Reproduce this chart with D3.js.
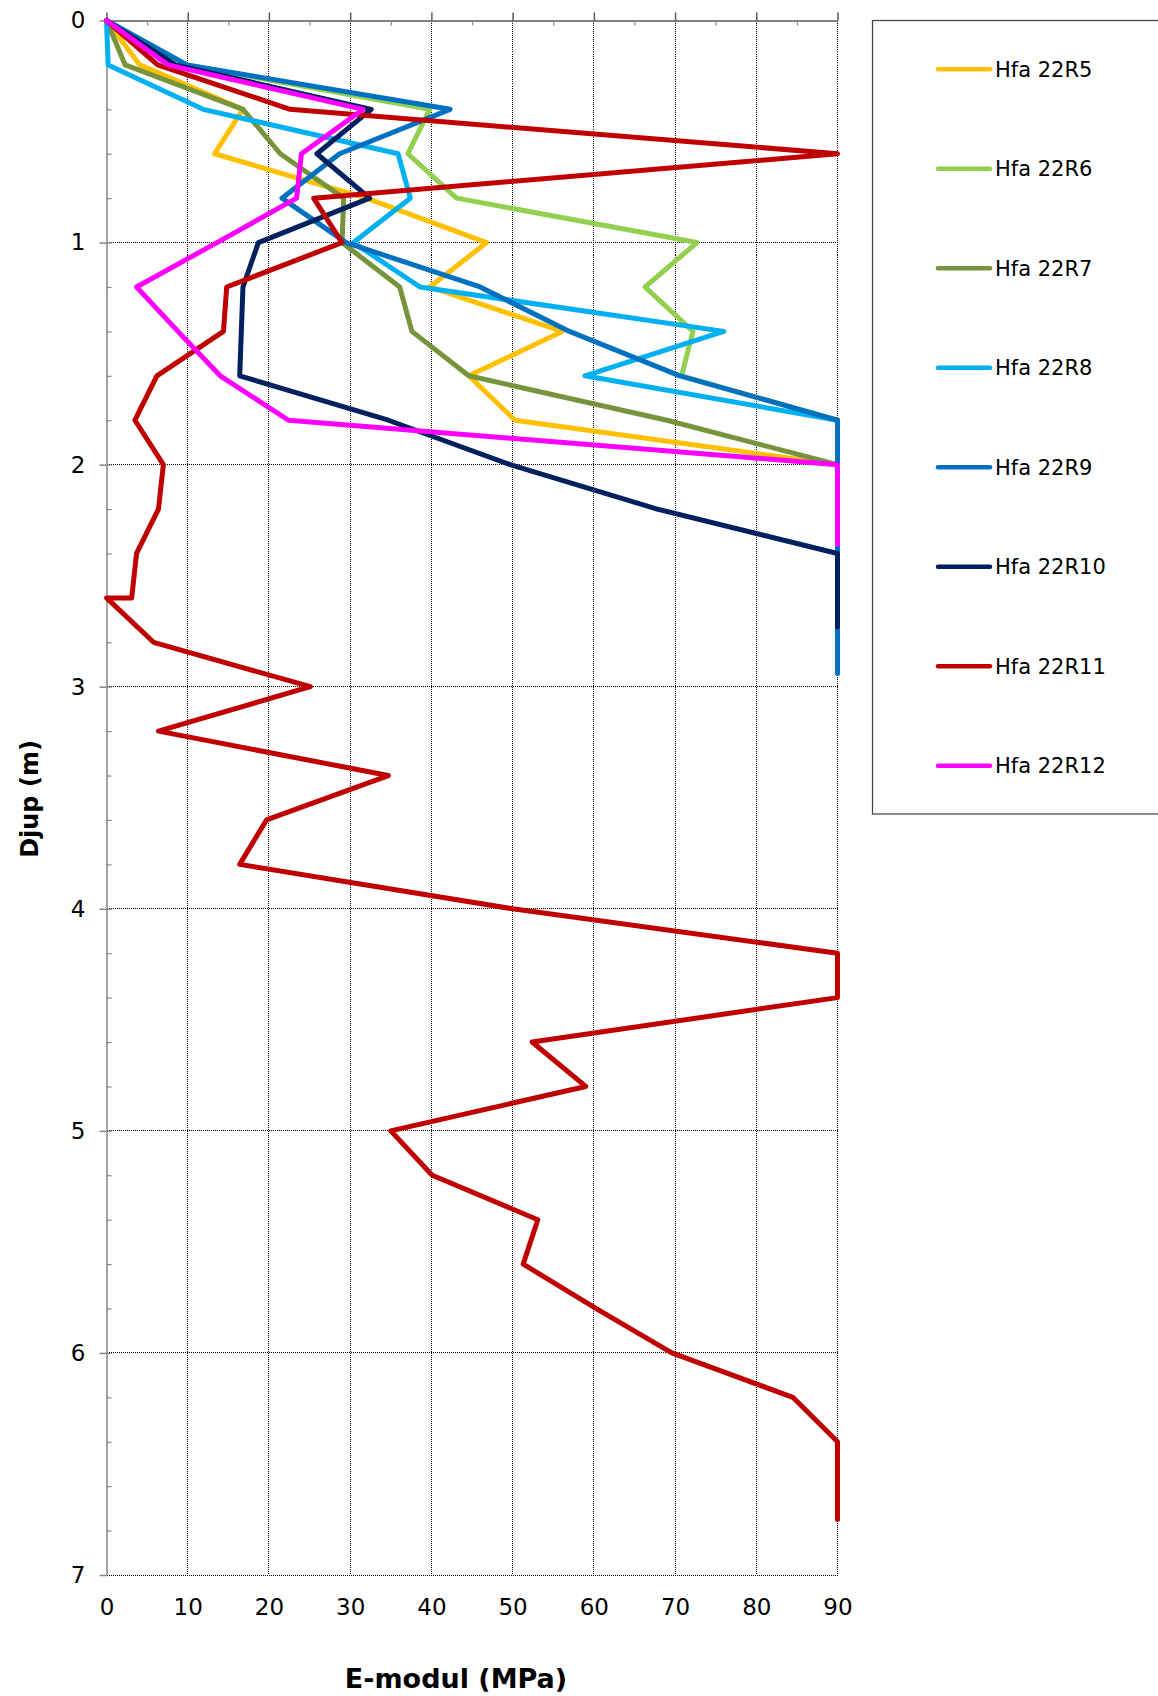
<!DOCTYPE html>
<html>
<head>
<meta charset="utf-8">
<title>E-modul mot djup</title>
<script src="https://cdn.jsdelivr.net/npm/d3@7"></script>
<style>
    body { margin: 0; background: #fff; }
    svg { display: block; }
    .grid line { stroke: #000; stroke-width: 1; stroke-dasharray: 1,1; shape-rendering: crispEdges; }
    .tick text { font-family: "DejaVu Sans", Verdana, sans-serif; font-size: 23px; fill: #000; }
    .title { font-family: "DejaVu Sans", Verdana, sans-serif; font-weight: bold; fill: #000; }
    .legend text { font-family: "DejaVu Sans", Verdana, sans-serif; font-size: 21px; fill: #000; }
</style>
</head>
<body>
<div id="chart"></div>
<script>
//series names, colours in the same order
var names = ["Hfa 22R5", "Hfa 22R6", "Hfa 22R7", "Hfa 22R8", "Hfa 22R9", "Hfa 22R10", "Hfa 22R11", "Hfa 22R12"];
var colors = ["#FFC000", "#92D050", "#77933C", "#00B0F0", "#0070C0", "#002060", "#C00000", "#FF00FF"];

//depth (m) and E-modul (MPa) for every sounding
var depthR5 = [0, 0.2, 0.4, 0.6, 0.8, 1.0, 1.2, 1.4, 1.6, 1.8, 2.0];
var emodR5  = [0, 4.1, 16.8, 13.3, 32, 46.8, 39.8, 56.1, 44.6, 50.3, 90];

var depthR6 = [0, 0.2, 0.4, 0.6, 0.8, 1.0, 1.2, 1.4, 1.6, 1.8];
var emodR6  = [0, 9.9, 39.8, 37.1, 43.1, 72.7, 66.3, 72.2, 70.8, 90];

var depthR7 = [0, 0.2, 0.4, 0.6, 0.8, 1.0, 1.2, 1.4, 1.6, 1.8, 2.0];
var emodR7  = [0, 2.3, 16.8, 21.4, 29.2, 29.0, 36.1, 37.6, 44.6, 69, 90];

var depthR8 = [0, 0.2, 0.4, 0.6, 0.8, 1.0, 1.2, 1.4, 1.6, 1.8];
var emodR8  = [0, 0.2, 11.9, 35.9, 37.4, 30.4, 38.6, 76.0, 58.9, 90];

var depthR9 = [0, 0.2, 0.4, 0.6, 0.8, 1.0, 1.2, 1.4, 1.6, 1.8, 2.94];
var emodR9  = [0, 9.9, 42.3, 28.7, 21.6, 29.5, 46.0, 57.0, 70.6, 90, 90];

var depthR10 = [0, 0.2, 0.4, 0.6, 0.8, 1.0, 1.2, 1.4, 1.6, 1.8, 2.0, 2.2, 2.4, 2.73];
var emodR10  = [0, 8.5, 32.6, 25.9, 32.4, 18.7, 16.8, 16.6, 16.4, 34.7, 49.7, 67.8, 90, 90];

var depthR11 = [0, 0.2, 0.4, 0.6, 0.8, 1.0, 1.2, 1.4, 1.6, 1.8, 2.0, 2.2, 2.4, 2.6, 2.6,
                2.8, 3.0, 3.2, 3.4, 3.6, 3.8, 4.0, 4.2, 4.4, 4.6, 4.8, 5.0, 5.2, 5.4, 5.6,
                5.8, 6.0, 6.2, 6.4, 6.75];
var emodR11  = [0, 6.3, 22.6, 90, 25.5, 29.0, 14.8, 14.4, 6.2, 3.5, 7.0, 6.4, 3.7, 3.1, 0,
                5.8, 25.1, 6.4, 34.7, 19.7, 16.4, 50, 90, 90, 52.4, 59.0, 35.0, 40.1, 53.1, 51.3,
                60.3, 69.6, 84.5, 90, 90];

var depthR12 = [0, 0.2, 0.4, 0.6, 0.8, 1.0, 1.2, 1.4, 1.6, 1.8, 2.0, 2.36];
var emodR12  = [0, 7.6, 31.6, 24.0, 23.4, 13.6, 3.7, 8.8, 14.0, 22.4, 90, 90];

//axis ticks
var xTicks = [0, 10, 20, 30, 40, 50, 60, 70, 80, 90];
var yTicks = [0, 1, 2, 3, 4, 5, 6, 7];

(function(){

    var width = 1158, height = 1696;
    var left = 106.5, right = 837.5, top = 20.5, bottom = 1575;

    var depths = [depthR5, depthR6, depthR7, depthR8, depthR9, depthR10, depthR11, depthR12];
    var emods = [emodR5, emodR6, emodR7, emodR8, emodR9, emodR10, emodR11, emodR12];

    var x = d3.scaleLinear().domain([0, 90]).range([left, right]);
    var y = d3.scaleLinear().domain([0, 7]).range([top, bottom]);

    var svg = d3.select("#chart").append("svg")
        .attr("width", width)
        .attr("height", height);

    //dotted grid
    var grid = svg.append("g").attr("class", "grid");
    grid.selectAll(".vgrid")
        .data(xTicks.slice(1))
        .enter().append("line")
        .attr("x1", d => x(d)).attr("x2", d => x(d))
        .attr("y1", top).attr("y2", bottom);
    grid.selectAll(".hgrid")
        .data(yTicks.slice(1))
        .enter().append("line")
        .attr("x1", left).attr("x2", right)
        .attr("y1", d => y(d)).attr("y2", d => y(d));

    //top axis, major ticks outside, minor inside
    var topAxis = svg.append("g")
        .attr("transform", "translate(0," + top + ")")
        .call(d3.axisTop(x).tickValues(xTicks).tickSize(8).tickSizeOuter(0).tickFormat(""));
    svg.append("g")
        .attr("class", "minor")
        .attr("transform", "translate(0," + top + ")")
        .call(d3.axisTop(x).tickValues(d3.range(5, 90, 10)).tickSize(-5).tickSizeOuter(0).tickFormat(""))
        .select(".domain").remove();
    topAxis.selectAll("path, line").attr("stroke", "#5a5a5a").attr("stroke-width", 1.5);

    //left axis with labels
    var leftAxis = svg.append("g")
        .attr("transform", "translate(" + left + ",0)")
        .call(d3.axisLeft(y).tickValues(yTicks).tickSize(7).tickSizeOuter(0).tickPadding(14).tickFormat(d3.format("d")));
    svg.append("g")
        .attr("class", "minor")
        .attr("transform", "translate(" + left + ",0)")
        .call(d3.axisLeft(y).tickValues(d3.range(0.2, 7, 0.2)).tickSize(-5).tickFormat(""))
        .select(".domain").remove();
    leftAxis.selectAll("path, line").attr("stroke", "#868686").attr("stroke-width", 1.5);
    svg.selectAll(".minor line").attr("stroke", "#868686").attr("stroke-width", 1.2);

    //bottom labels only
    var bottomAxis = svg.append("g")
        .attr("transform", "translate(0," + bottom + ")")
        .call(d3.axisBottom(x).tickValues(xTicks).tickSize(0).tickPadding(24).tickFormat(d3.format("d")));
    bottomAxis.select(".domain").remove();

    //soundings, R12 ends up on top
    var line = d3.line()
        .x(d => x(d[1]))
        .y(d => y(d[0]));

    names.forEach(function(name, i){
        var pts = depths[i].map((d, j) => [d, emods[i][j]]);
        svg.append("path")
            .datum(pts)
            .attr("fill", "none")
            .attr("stroke", colors[i])
            .attr("stroke-width", 5)
            .attr("stroke-linejoin", "round")
            .attr("stroke-linecap", "round")
            .attr("d", line);
    });

    //axis titles
    svg.append("text")
        .attr("class", "title")
        .attr("x", 456)
        .attr("y", 1688)
        .attr("text-anchor", "middle")
        .style("font-size", "27px")
        .text("E-modul (MPa)");
    svg.append("text")
        .attr("class", "title")
        .attr("transform", "translate(38,799) rotate(-90)")
        .attr("text-anchor", "middle")
        .style("font-size", "24px")
        .text("Djup (m)");

    //legend box, runs off the right edge
    var legend = svg.append("g").attr("class", "legend");
    legend.append("rect")
        .attr("x", 872.5).attr("y", 20.5)
        .attr("width", 400).attr("height", 793.5)
        .attr("fill", "#fff")
        .attr("stroke", "#404040")
        .attr("stroke-width", 1.2);

    var rows = legend.selectAll(".row")
        .data(names)
        .enter().append("g")
        .attr("transform", (d, i) => "translate(0," + (69.2 + i * 99.5) + ")");
    rows.append("line")
        .attr("x1", 938).attr("x2", 990)
        .attr("stroke", (d, i) => colors[i])
        .attr("stroke-width", 4.5)
        .attr("stroke-linecap", "round");
    rows.append("text")
        .attr("x", 995)
        .attr("y", 7.6)
        .text(d => d);

})()
</script>
</body>
</html>
